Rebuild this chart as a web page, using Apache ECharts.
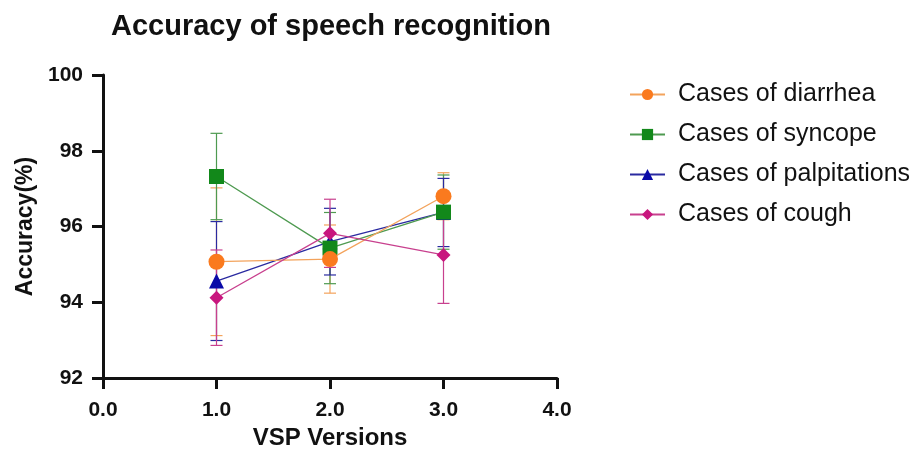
<!DOCTYPE html>
<html>
<head>
<meta charset="utf-8">
<script src="https://cdn.jsdelivr.net/npm/echarts@6/dist/echarts.min.js"></script>
<style>html,body{margin:0;padding:0;background:#fff}#c{width:916px;height:459px}</style>
</head>
<body>
<div id="c"></div>
<script>
const versions = [1, 2, 3];
const seriesNames = ['Cases of diarrhea', 'Cases of syncope', 'Cases of palpitations', 'Cases of cough'];
const diarrheaMean = [95.07, 95.14, 96.80];
const diarrheaErr = [1.95, 0.90, 0.62];
const syncopeMean = [97.32, 95.43, 96.38];
const syncopeErr = [1.14, 0.94, 0.98];
const palpitationsMean = [94.56, 95.60, 96.37];
const palpitationsErr = [1.57, 0.88, 0.90];
const coughMean = [94.12, 95.82, 95.25];
const coughErr = [1.26, 0.90, 1.28];
const yTicks = [92, 94, 96, 98, 100];
const xTicks = [0, 1, 2, 3, 4];

const means = [diarrheaMean, syncopeMean, palpitationsMean, coughMean];
const errs = [diarrheaErr, syncopeErr, palpitationsErr, coughErr];
const markerColors = ['#FA7A1E', '#12881A', '#0A0AA8', '#C8167E'];
const lineColors = ['#F3A35C', '#4E9A50', '#2A2AA0', '#C8408E'];
const symbols = ['circle', 'rect', 'triangle', 'diamond'];
const symbolSizes = [16, 15, 15, 14];
const zOrder = [4, 3, 2, 5];
const FONT = '"Liberation Sans", Arial, sans-serif';

const series = [];
means.forEach((m, i) => {
  series.push({
    type: 'custom',
    name: seriesNames[i] + ' err',
    z: 1,
    silent: true,
    data: versions.map((v, k) => [v, m[k] - errs[i][k], m[k] + errs[i][k]]),
    renderItem: function (params, api) {
      const lo = api.coord([api.value(0), api.value(1)]);
      const hi = api.coord([api.value(0), api.value(2)]);
      const w = 6;
      const st = { stroke: lineColors[i], lineWidth: 1.2 };
      return {
        type: 'group',
        children: [
          { type: 'line', shape: { x1: lo[0], y1: lo[1], x2: hi[0], y2: hi[1] }, style: st },
          { type: 'line', shape: { x1: lo[0] - w, y1: lo[1], x2: lo[0] + w, y2: lo[1] }, style: st },
          { type: 'line', shape: { x1: hi[0] - w, y1: hi[1], x2: hi[0] + w, y2: hi[1] }, style: st }
        ]
      };
    }
  });
});
means.forEach((m, i) => {
  series.push({
    type: 'line',
    name: seriesNames[i],
    z: zOrder[i],
    data: versions.map((v, k) => [v, m[k]]),
    symbol: symbols[i],
    symbolSize: symbolSizes[i],
    itemStyle: { color: markerColors[i] },
    lineStyle: { color: lineColors[i], width: 1.3 },
    animation: false
  });
});

const chart = echarts.init(document.getElementById('c'));
chart.setOption({
  animation: false,
  backgroundColor: '#fff',
  title: {
    text: 'Accuracy of speech recognition',
    left: 106, top: 7,
    textStyle: { fontFamily: FONT, fontSize: 29, fontWeight: 'bold', color: '#111' }
  },
  legend: {
    data: seriesNames,
    orient: 'vertical',
    left: 624, top: 77,
    itemWidth: 35, itemHeight: 14,
    itemGap: 15,
    textStyle: { fontFamily: FONT, fontSize: 25, color: '#111', padding: [0, 0, 0, 8] }
  },
  grid: { left: 103, right: 359, top: 75, bottom: 81 },
  xAxis: {
    type: 'value', min: 0, max: 4, interval: 1,
    name: 'VSP Versions', nameLocation: 'middle', nameGap: 48,
    nameTextStyle: { fontFamily: FONT, fontSize: 24, fontWeight: 'bold', color: '#111' },
    axisLine: { lineStyle: { color: '#111', width: 3 } },
    axisTick: { length: 11, lineStyle: { color: '#111', width: 3 } },
    axisLabel: { fontFamily: FONT, fontSize: 21, fontWeight: 'bold', color: '#111', margin: 22,
      formatter: v => xTicks.includes(v) ? v.toFixed(1) : '' },
    splitLine: { show: false }
  },
  yAxis: {
    type: 'value', min: 92, max: 100, interval: 2,
    name: 'Accuracy(%)', nameLocation: 'middle', nameGap: 66, nameRotate: 90,
    nameTextStyle: { fontFamily: FONT, fontSize: 23, fontWeight: 'bold', color: '#111' },
    axisLine: { show: true, lineStyle: { color: '#111', width: 3 } },
    axisTick: { show: true, length: 11, lineStyle: { color: '#111', width: 3 } },
    axisLabel: { fontFamily: FONT, fontSize: 21, fontWeight: 'bold', color: '#111', margin: 20,
      formatter: v => yTicks.includes(v) ? String(v) : '' },
    splitLine: { show: false }
  },
  series: series
});
</script>
</body>
</html>
